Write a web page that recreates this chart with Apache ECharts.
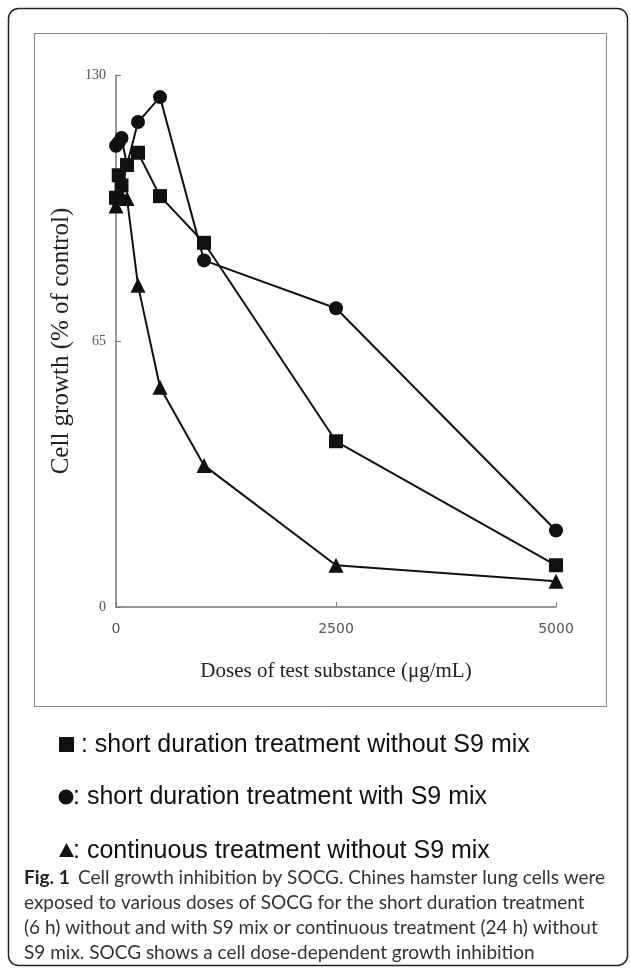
<!DOCTYPE html>
<html>
<head>
<meta charset="utf-8">
<script src="https://cdn.jsdelivr.net/npm/echarts@6/dist/echarts.min.js"></script>
<style>
  html, body { margin: 0; padding: 0; background: #fff; }
  #main { width: 630px; height: 969px; }
</style>
</head>
<body>
<div id="main"></div>
<script>
  // doses (ug/mL) and cell growth (% of control)
  var doses = [0, 31.25, 62.5, 125, 250, 500, 1000, 2500, 5000];
  var shortNoS9 = [100, 105.5, 103, 108, 111, 100.4, 89, 40.5, 10.2];
  var shortS9 = [112.7, 113.5, 114.6, 108, 118.5, 124.6, 84.7, 73, 18.7];
  var contNoS9 = [98, 100, 100.5, 99.8, 78.6, 53.7, 34.6, 10.2, 6.3];
  var xTicks = [0, 2500, 5000];
  var yTicks = [0, 65, 130];

  var legendLines = [
    ' : short duration treatment without S9 mix',
    ': short duration treatment with S9 mix',
    ': continuous treatment without S9 mix'
  ];
  var captionLines = [
    'Cell growth inhibition by SOCG. Chines hamster lung cells were',
    'exposed to various doses of SOCG for the short duration treatment',
    '(6 h) without and with S9 mix or continuous treatment (24 h) without',
    'S9 mix. SOCG shows a cell dose-dependent growth inhibition'
  ];

  function pairs(ys) {
    return doses.map(function (d, i) { return [d, ys[i]]; });
  }

  var chart = echarts.init(document.getElementById('main'));

  var lineStyle = { color: '#111', width: 2 };
  var itemStyle = { color: '#111' };

  var graphic = [
    // outer rounded frame
    { type: 'rect', shape: { x: 8.5, y: 8.5, width: 619, height: 957, r: 10 },
      style: { fill: 'none', stroke: '#222', lineWidth: 1.5 }, z: -10 },
    // inner chart frame
    { type: 'rect', shape: { x: 34.5, y: 33.5, width: 572, height: 673 },
      style: { fill: 'none', stroke: '#888', lineWidth: 1 }, z: -10 },
    // legend icons
    { type: 'rect', shape: { x: 59, y: 737, width: 15, height: 15 }, style: { fill: '#111' } },
    { type: 'circle', shape: { cx: 66, cy: 797, r: 7.5 }, style: { fill: '#111' } },
    { type: 'polygon', shape: { points: [[59, 857], [66.5, 843], [74, 857]] }, style: { fill: '#111' } }
  ];
  var legendY = [745, 797, 851];
  legendLines.forEach(function (t, i) {
    graphic.push({ type: 'text', x: i === 0 ? 74 : 73, y: legendY[i],
      style: { text: t, fill: '#111', font: '25px "Liberation Sans", Arial, sans-serif', verticalAlign: 'middle' } });
  });
  var capY = [878, 903, 928, 953];
  graphic.push({ type: 'text', x: 24, y: capY[0],
    style: { text: 'Fig. 1', fill: '#222', font: 'bold 19px Lato, sans-serif', verticalAlign: 'middle' } });
  captionLines.forEach(function (t, i) {
    graphic.push({ type: 'text', x: i === 0 ? 78 : 24, y: capY[i],
      style: { text: t, fill: '#333', font: '19px Lato, sans-serif', verticalAlign: 'middle' } });
  });

  var option = {
    animation: false,
    backgroundColor: '#fff',
    grid: { left: 116, right: 74, top: 75, bottom: 362 },
    xAxis: {
      type: 'value',
      min: 0,
      max: 5000,
      interval: 2500,
      name: 'Doses of test substance (\u03bcg/mL)',
      nameLocation: 'middle',
      nameGap: 54,
      nameTextStyle: { fontFamily: '"Liberation Serif", serif', fontSize: 21, color: '#222' },
      axisLine: { lineStyle: { color: '#777', width: 1.5 } },
      axisTick: { inside: true, length: 5, lineStyle: { color: '#777' } },
      axisLabel: { margin: 15, color: '#555', fontSize: 14, fontFamily: '"DejaVu Sans", sans-serif',
        customValues: xTicks, formatter: function (v) { return String(v); } },
      splitLine: { show: false }
    },
    yAxis: {
      type: 'value',
      min: 0,
      max: 130,
      interval: 65,
      name: 'Cell growth (% of control)',
      nameLocation: 'middle',
      nameGap: 34,
      nameTextStyle: { fontFamily: '"Liberation Serif", serif', fontSize: 25, color: '#222' },
      axisLine: { show: true, lineStyle: { color: '#777', width: 1.5 } },
      axisTick: { show: true, inside: true, length: 5, lineStyle: { color: '#777' } },
      axisLabel: { margin: 10, color: '#555', fontSize: 14, fontFamily: '"Liberation Serif", serif',
        customValues: yTicks },
      splitLine: { show: false }
    },
    graphic: graphic,
    series: [
      { name: 'short duration treatment without S9 mix', type: 'line', data: pairs(shortNoS9),
        symbol: 'rect', symbolSize: 14, lineStyle: lineStyle, itemStyle: itemStyle, z: 3 },
      { name: 'short duration treatment with S9 mix', type: 'line', data: pairs(shortS9),
        symbol: 'circle', symbolSize: 14, lineStyle: lineStyle, itemStyle: itemStyle, z: 2 },
      { name: 'continuous treatment without S9 mix', type: 'line', data: pairs(contNoS9),
        symbol: 'triangle', symbolSize: 15, lineStyle: lineStyle, itemStyle: itemStyle, z: 4 }
    ]
  };

  chart.setOption(option);
</script>
</body>
</html>
